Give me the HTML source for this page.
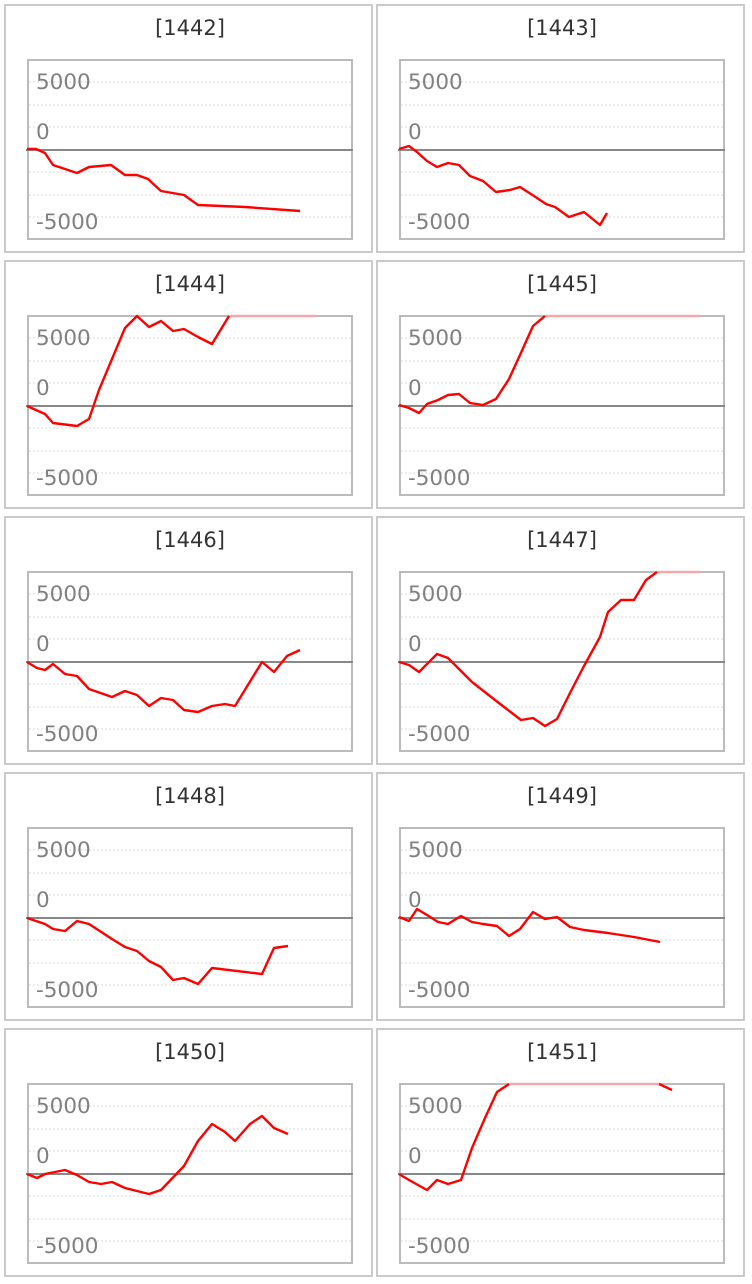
<!DOCTYPE html>
<html><head><meta charset="utf-8"><style>
html,body{margin:0;padding:0;background:#fff;}
svg{display:block;}
text{font-family:"DejaVu Sans","Liberation Sans",sans-serif;}
</style></head><body>
<svg id="s" width="752" height="1284" xmlns="http://www.w3.org/2000/svg"></svg>
<script>
var P=[
["1442",0,0,[[27,149],[36,149],[45,153],[53,165],[77,173],[89,167],[111,165],[125,175],[137,175],[148,179],[161,191],[184,195],[198,205],[245,207],[300,211]],null],
["1443",372,0,[[399,149],[409,146],[417,152],[427,161],[437,167],[448,163],[459,165],[470,176],[483,181],[496,192],[510,190],[520,187],[534,196],[546,204],[555,207],[569,217],[584,212],[600,225],[607,213]],null],
["1444",0,256,[[27,406],[45,414],[53,423],[77,426],[89,419],[99,390],[125,328],[137,316],[149,327],[161,321],[173,331],[184,329],[198,337],[212,344],[229,316]],[229,315]],
["1445",372,256,[[399,405],[409,408],[419,413],[427,404],[438,400],[448,395],[459,394],[470,403],[483,405],[496,399],[509,379],[520,355],[533,326],[545,316]],[545,700]],
["1446",0,512,[[27,662],[37,668],[45,670],[53,664],[65,674],[77,676],[89,689],[112,697],[125,691],[137,695],[149,706],[161,698],[173,700],[184,710],[198,712],[212,706],[225,704],[235,706],[262,662],[274,672],[287,656],[300,650]],null],
["1447",372,512,[[399,662],[409,665],[419,672],[437,654],[448,658],[472,682],[495,700],[521,720],[533,718],[545,726],[557,719],[571,691],[584,666],[600,637],[608,612],[621,600],[634,600],[646,580],[657,572]],[657,700]],
["1448",0,768,[[27,918],[45,924],[53,929],[65,931],[77,921],[89,924],[112,939],[125,947],[137,951],[149,961],[161,967],[173,980],[184,978],[198,984],[212,968],[262,974],[274,948],[288,946]],null],
["1449",372,768,[[399,917],[409,921],[417,909],[427,915],[438,922],[448,924],[461,916],[472,922],[483,924],[497,926],[509,936],[520,929],[533,912],[545,919],[557,917],[570,927],[584,930],[608,933],[634,937],[660,942]],null],
["1450",0,1024,[[27,1174],[37,1178],[45,1174],[65,1170],[77,1175],[89,1182],[101,1184],[112,1182],[125,1188],[137,1191],[149,1194],[161,1190],[184,1166],[198,1141],[212,1124],[225,1132],[235,1141],[250,1124],[262,1116],[274,1128],[288,1134]],null],
["1451",372,1024,[[399,1174],[409,1180],[427,1190],[437,1180],[448,1184],[461,1180],[472,1148],[485,1118],[497,1092],[509,1084]],[509,659],[[659,1084],[672,1090]]]
];
var h='';
P.forEach(function(p){
 var ox=p[1],oy=p[2];
 h+='<rect x="'+(ox+5)+'" y="'+(oy+5)+'" width="367" height="247" fill="#fff" stroke="#cacaca" stroke-width="2"/>';
 h+='<text x="'+(ox+190)+'" y="'+(oy+35)+'" font-size="21" fill="#333" text-anchor="middle">['+p[0]+']</text>';
 [82,105,127,172,195,217].forEach(function(g){h+='<line x1="'+(ox+29)+'" x2="'+(ox+351)+'" y1="'+(oy+g)+'" y2="'+(oy+g)+'" stroke="#d8d8d8" stroke-dasharray="2,2"/>';});
 h+='<text x="'+(ox+36)+'" y="'+(oy+89)+'" font-size="21.5" fill="#808080">5000</text>';
 h+='<text x="'+(ox+36)+'" y="'+(oy+139)+'" font-size="21.5" fill="#808080">0</text>';
 h+='<text x="'+(ox+36)+'" y="'+(oy+229)+'" font-size="21.5" fill="#808080">-5000</text>';
 h+='<rect x="'+(ox+28)+'" y="'+(oy+60)+'" width="324" height="179" fill="none" stroke="#bbb" stroke-width="2"/>';
 h+='<line x1="'+(ox+26)+'" x2="'+(ox+353)+'" y1="'+(oy+150)+'" y2="'+(oy+150)+'" stroke="#888" stroke-width="2"/>';
 if(p[4]) h+='<line x1="'+p[4][0]+'" x2="'+p[4][1]+'" y1="'+(oy+60)+'" y2="'+(oy+60)+'" stroke="#f6a8a8" stroke-width="2.4"/>';
 h+='<polyline fill="none" stroke="#f00" stroke-width="2.4" stroke-linejoin="round" points="'+p[3].map(function(a){return a.join(',')}).join(' ')+'"/>';
 if(p[5]) h+='<polyline fill="none" stroke="#f00" stroke-width="2.4" points="'+p[5].map(function(a){return a.join(',')}).join(' ')+'"/>';
});
document.getElementById('s').innerHTML=h;
</script>
</body></html>
